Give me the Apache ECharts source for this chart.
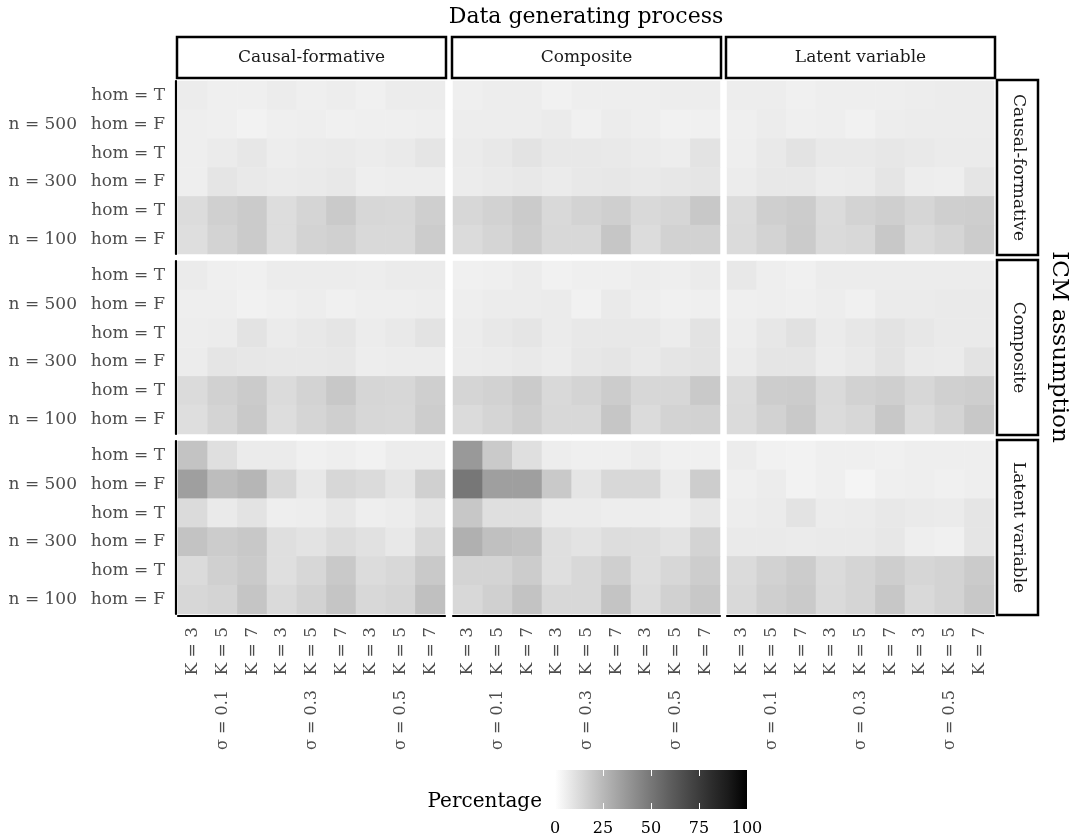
<!DOCTYPE html>
<html><head><meta charset="utf-8">
<script src="https://cdn.jsdelivr.net/npm/echarts@6/dist/echarts.min.js"></script>
<style>html,body{margin:0;padding:0;background:#fff}#c{width:1075px;height:838px}</style>
</head><body><div id="c"></div>
<script>
// ---- labels ----
const dgpLabels = ['Causal-formative', 'Composite', 'Latent variable'];
const icmLabels = ['Causal-formative', 'Composite', 'Latent variable'];
const sigmaLabels = ['σ = 0.1', 'σ = 0.3', 'σ = 0.5'];
const kLabels = ['K = 3', 'K = 5', 'K = 7'];
const nLabels = ['n = 500', 'n = 300', 'n = 100'];
const homLabels = ['hom = T', 'hom = F'];
const legendTicks = [0, 25, 50, 75, 100];

// ---- values (percentage) ----
// rows: n=500 T, n=500 F, n=300 T, n=300 F, n=100 T, n=100 F
// cols: σ=0.1 (K=3,5,7), σ=0.3 (K=3,5,7), σ=0.5 (K=3,5,7)
const icmCF_dgpCF = [
  [6.7, 5.6, 5.6, 6.7, 5.6, 6.3, 5.2, 6.7, 6.7],
  [6.0, 5.6, 4.6, 5.6, 6.0, 5.2, 5.6, 5.6, 6.0],
  [6.0, 7.0, 8.4, 6.3, 7.0, 7.4, 6.7, 7.4, 9.1],
  [6.0, 8.8, 7.7, 7.0, 7.4, 8.1, 6.0, 6.3, 6.3],
  [12.3, 16.5, 18.2, 11.9, 14.7, 18.6, 14.0, 13.7, 16.8],
  [11.6, 15.4, 18.2, 11.9, 15.4, 16.5, 13.3, 13.3, 17.9]
];
const icmCF_dgpCO = [
  [5.6, 6.3, 6.3, 4.9, 6.0, 6.0, 6.0, 6.3, 6.3],
  [6.3, 6.3, 6.3, 7.0, 5.2, 6.7, 6.0, 4.9, 5.2],
  [7.0, 8.1, 9.5, 8.1, 8.1, 7.7, 7.0, 6.3, 9.5],
  [6.7, 7.4, 8.1, 7.0, 8.1, 8.4, 7.7, 8.4, 9.1],
  [14.0, 15.8, 18.2, 13.3, 15.4, 16.8, 13.3, 14.4, 19.3],
  [12.6, 14.7, 17.5, 13.7, 13.7, 20.0, 12.3, 15.8, 15.8]
];
const icmCF_dgpLV = [
  [6.3, 6.3, 5.2, 6.0, 6.0, 6.0, 6.3, 6.7, 6.7],
  [5.6, 6.7, 5.6, 6.0, 4.9, 6.3, 6.7, 6.7, 6.7],
  [6.0, 7.7, 9.8, 7.7, 7.7, 8.4, 7.7, 7.0, 7.0],
  [6.7, 8.1, 8.1, 6.7, 7.0, 8.8, 6.3, 6.0, 9.1],
  [12.3, 16.8, 17.9, 12.6, 15.4, 16.8, 14.4, 16.8, 17.2],
  [12.6, 15.4, 18.2, 13.0, 13.7, 19.3, 13.0, 14.7, 17.9]
];
const icmCO_dgpCF = [
  [7.0, 5.6, 5.2, 6.7, 6.7, 6.7, 6.3, 7.0, 7.0],
  [6.0, 6.0, 4.9, 5.6, 6.3, 5.2, 6.0, 6.0, 6.3],
  [6.3, 6.7, 9.8, 7.0, 8.1, 8.8, 6.7, 7.7, 9.5],
  [6.7, 9.1, 8.4, 8.1, 8.1, 8.4, 6.3, 6.7, 6.7],
  [12.6, 16.1, 18.2, 12.6, 15.4, 19.3, 14.4, 14.0, 16.8],
  [11.6, 15.1, 18.9, 11.9, 14.7, 16.8, 14.0, 13.7, 17.5]
];
const icmCO_dgpCO = [
  [5.2, 5.6, 6.7, 4.9, 5.6, 5.6, 6.3, 6.0, 7.0],
  [6.0, 6.7, 6.7, 7.0, 4.9, 7.4, 6.0, 5.2, 5.6],
  [6.7, 8.1, 9.1, 7.0, 8.1, 8.1, 8.1, 6.7, 9.5],
  [6.7, 7.0, 7.7, 6.7, 8.4, 8.8, 7.7, 8.8, 9.5],
  [14.7, 15.8, 18.2, 13.3, 15.1, 17.9, 14.0, 14.0, 18.9],
  [12.6, 14.7, 17.2, 13.7, 13.7, 20.0, 12.6, 15.4, 15.8]
];
const icmCO_dgpLV = [
  [8.1, 6.0, 5.2, 6.7, 6.7, 6.7, 6.7, 6.7, 6.7],
  [5.6, 6.0, 5.6, 6.3, 5.2, 7.0, 7.0, 7.4, 7.4],
  [6.3, 8.4, 10.5, 7.0, 8.4, 9.5, 8.4, 7.4, 7.4],
  [7.0, 8.8, 8.8, 6.7, 7.7, 9.5, 7.4, 7.0, 9.5],
  [12.3, 17.5, 17.9, 13.0, 15.8, 16.8, 14.0, 16.5, 17.2],
  [12.6, 15.8, 18.9, 12.6, 14.0, 19.3, 12.6, 15.1, 19.3]
];
const icmLV_dgpCF = [
  [21.1, 11.2, 7.0, 7.0, 5.2, 6.0, 4.9, 6.7, 6.7],
  [34.5, 23.3, 25.9, 13.7, 8.1, 14.0, 12.6, 8.8, 16.5],
  [12.6, 7.4, 9.8, 6.0, 6.3, 8.4, 6.0, 6.7, 8.8],
  [21.1, 17.9, 19.3, 10.9, 9.5, 12.3, 10.2, 8.1, 13.7],
  [12.6, 16.5, 18.6, 11.2, 14.0, 18.9, 12.3, 13.7, 18.9],
  [14.0, 15.1, 20.3, 13.0, 15.8, 20.3, 13.7, 14.7, 22.3]
];
const icmLV_dgpCO = [
  [37.0, 18.6, 10.9, 6.3, 5.6, 5.6, 6.7, 5.2, 5.2],
  [50.0, 34.5, 34.8, 18.9, 8.8, 13.7, 13.7, 7.0, 17.5],
  [19.6, 11.2, 10.9, 7.0, 7.0, 6.3, 6.3, 6.0, 8.4],
  [28.2, 22.3, 21.1, 11.2, 9.8, 11.9, 11.6, 9.8, 15.4],
  [15.1, 15.1, 17.9, 11.2, 13.7, 16.8, 11.6, 14.0, 17.5],
  [13.7, 16.5, 21.1, 13.7, 13.7, 20.7, 12.3, 16.1, 19.3]
];
const icmLV_dgpLV = [
  [6.7, 4.9, 4.6, 5.6, 5.6, 5.2, 6.0, 6.0, 6.0],
  [5.6, 6.7, 4.6, 5.6, 3.9, 5.6, 6.0, 5.2, 6.0],
  [6.3, 7.0, 9.8, 6.7, 7.0, 8.1, 7.4, 7.0, 8.8],
  [7.4, 7.4, 7.0, 7.4, 7.4, 8.4, 6.0, 5.2, 8.8],
  [12.6, 15.8, 17.9, 12.6, 14.7, 17.2, 14.4, 15.4, 18.2],
  [13.3, 16.8, 18.6, 13.0, 14.7, 19.6, 13.3, 15.4, 19.3]
];

const panels = [
  [icmCF_dgpCF, icmCF_dgpCO, icmCF_dgpLV],
  [icmCO_dgpCF, icmCO_dgpCO, icmCO_dgpLV],
  [icmLV_dgpCF, icmLV_dgpCO, icmLV_dgpLV]
];

// ---- styling / layout ----
const FONT = "'DejaVu Serif', 'Liberation Serif', serif";
const grayStops = ['#ffffff', '#e2e2e2', '#c6c6c6', '#ababab', '#919191', '#777777',
                   '#5e5e5e', '#474747', '#303030', '#1b1b1b', '#000000'];
const colLefts = [178, 453, 727];
const rowTops = [81, 261, 441];
const PW = 267, PH = 173;

const xCats = sigmaLabels.flatMap(s => kLabels.map(k => s + '|' + k));
const yCats = nLabels.flatMap(n => homLabels.map(h => n + '|' + h));

const grids = [], xAxes = [], yAxes = [], series = [], graphics = [];
for (let r = 0; r < 3; r++) {
  for (let c = 0; c < 3; c++) {
    const gi = grids.length;
    grids.push({ left: colLefts[c], top: rowTops[r], width: PW, height: PH,
                 outerBoundsMode: 'none', containLabel: false });
    const bottomRow = r === 2, leftCol = c === 0;
    xAxes.push({
      type: 'category', gridIndex: gi, data: xCats, position: 'bottom', offset: 2,
      axisLine: { show: bottomRow, onZero: false, lineStyle: { color: '#000', width: 2.2 } },
      axisTick: { show: false },
      axisLabel: { show: bottomRow, rotate: 90, margin: 11, interval: 0,
                   fontFamily: FONT, fontSize: 17, color: '#4d4d4d',
                   formatter: v => v.split('|')[1] },
      splitLine: { show: false }
    });
    xAxes.push({
      type: 'category', gridIndex: gi, data: sigmaLabels, position: 'bottom', offset: 64,
      axisLine: { show: false }, axisTick: { show: false },
      axisLabel: { show: bottomRow, rotate: 90, margin: 12, interval: 0,
                   fontFamily: FONT, fontSize: 16, color: '#4d4d4d' },
      splitLine: { show: false }
    });
    yAxes.push({
      type: 'category', gridIndex: gi, data: yCats, inverse: true, position: 'left', offset: 2,
      axisLine: { show: leftCol, onZero: false, lineStyle: { color: '#000', width: 2.2 } },
      axisTick: { show: false },
      axisLabel: { show: leftCol, margin: 11, interval: 0,
                   fontFamily: FONT, fontSize: 17, color: '#4d4d4d',
                   formatter: v => v.split('|')[1] },
      splitLine: { show: false }
    });
    yAxes.push({
      type: 'category', gridIndex: gi, data: yCats, inverse: true, position: 'left', offset: 90,
      axisLine: { show: false }, axisTick: { show: false },
      axisLabel: { show: leftCol, margin: 11, interval: 0,
                   fontFamily: FONT, fontSize: 17, color: '#4d4d4d',
                   formatter: v => { const p = v.split('|'); return p[1] === homLabels[1] ? p[0] : ''; } },
      splitLine: { show: false }
    });
    const vals = panels[r][c];
    const data = [];
    vals.forEach((row, yi) => row.forEach((v, xi) => data.push([xi, yi, v])));
    series.push({
      type: 'heatmap', xAxisIndex: 2 * gi, yAxisIndex: 2 * gi, data: data,
      itemStyle: { borderWidth: 0 }, emphasis: { disabled: true }, silent: true,
      progressive: 0, animation: false
    });
  }
}

// colour bar grid
const lg = grids.length;
grids.push({
  left: 555, top: 770, width: 192, height: 39, show: true, borderWidth: 0,
  outerBoundsMode: 'none', containLabel: false,
  backgroundColor: {
    type: 'linear', x: 0, y: 0, x2: 1, y2: 0,
    colorStops: grayStops.map((col, i) => ({ offset: i / (grayStops.length - 1), color: col }))
  }
});
xAxes.push({
  type: 'value', gridIndex: lg, min: legendTicks[0], max: legendTicks[legendTicks.length - 1],
  interval: legendTicks[1] - legendTicks[0], position: 'bottom',
  axisLine: { show: false },
  axisTick: { show: true, inside: true, length: 6, lineStyle: { color: '#fff', width: 1 } },
  axisLabel: { show: true, margin: 12, fontFamily: FONT, fontSize: 16, color: '#000' },
  splitLine: { show: false }
});
xAxes.push({
  type: 'value', gridIndex: lg, min: legendTicks[0], max: legendTicks[legendTicks.length - 1],
  interval: legendTicks[1] - legendTicks[0], position: 'top',
  axisLine: { show: false },
  axisTick: { show: true, inside: true, length: 6, lineStyle: { color: '#fff', width: 1 } },
  axisLabel: { show: false }, splitLine: { show: false }
});
yAxes.push({ type: 'value', gridIndex: lg, show: false, min: 0, max: 1 });

// strips & titles
graphics.push({ type: 'text', x: 586, y: 17, style: { text: 'Data generating process',
  font: '22px ' + FONT, fill: '#000', textAlign: 'center', textVerticalAlign: 'middle' } });
dgpLabels.forEach((lab, c) => {
  graphics.push({ type: 'rect', shape: { x: colLefts[c] - 1, y: 37, width: PW + 2, height: 41 },
    style: { fill: '#fff', stroke: '#000', lineWidth: 2.5 } });
  graphics.push({ type: 'text', x: colLefts[c] + PW / 2, y: 58, style: { text: lab,
    font: '17px ' + FONT, fill: '#1a1a1a', textAlign: 'center', textVerticalAlign: 'middle' } });
});
icmLabels.forEach((lab, r) => {
  graphics.push({ type: 'rect', shape: { x: 997, y: rowTops[r] - 1, width: 41, height: PH + 2 },
    style: { fill: '#fff', stroke: '#000', lineWidth: 2.5 } });
  graphics.push({ type: 'text', x: 1018, y: rowTops[r] + PH / 2, rotation: -Math.PI / 2,
    style: { text: lab, font: '17px ' + FONT, fill: '#1a1a1a', textAlign: 'center', textVerticalAlign: 'middle' } });
});
graphics.push({ type: 'text', x: 1059, y: 347, rotation: -Math.PI / 2, style: { text: 'ICM assumption',
  font: '23px ' + FONT, fill: '#000', textAlign: 'center', textVerticalAlign: 'middle' } });
graphics.push({ type: 'text', x: 542, y: 802, style: { text: 'Percentage',
  font: '20px ' + FONT, fill: '#000', textAlign: 'right', textVerticalAlign: 'middle' } });

const chart = echarts.init(document.getElementById('c'), null, { renderer: 'canvas' });
chart.setOption({
  backgroundColor: '#fff',
  animation: false,
  grid: grids,
  xAxis: xAxes,
  yAxis: yAxes,
  visualMap: {
    type: 'continuous', show: false, min: 0, max: 100, dimension: 2,
    seriesIndex: series.map((s, i) => i),
    inRange: { color: grayStops }
  },
  series: series,
  graphic: graphics
});
</script></body></html>
